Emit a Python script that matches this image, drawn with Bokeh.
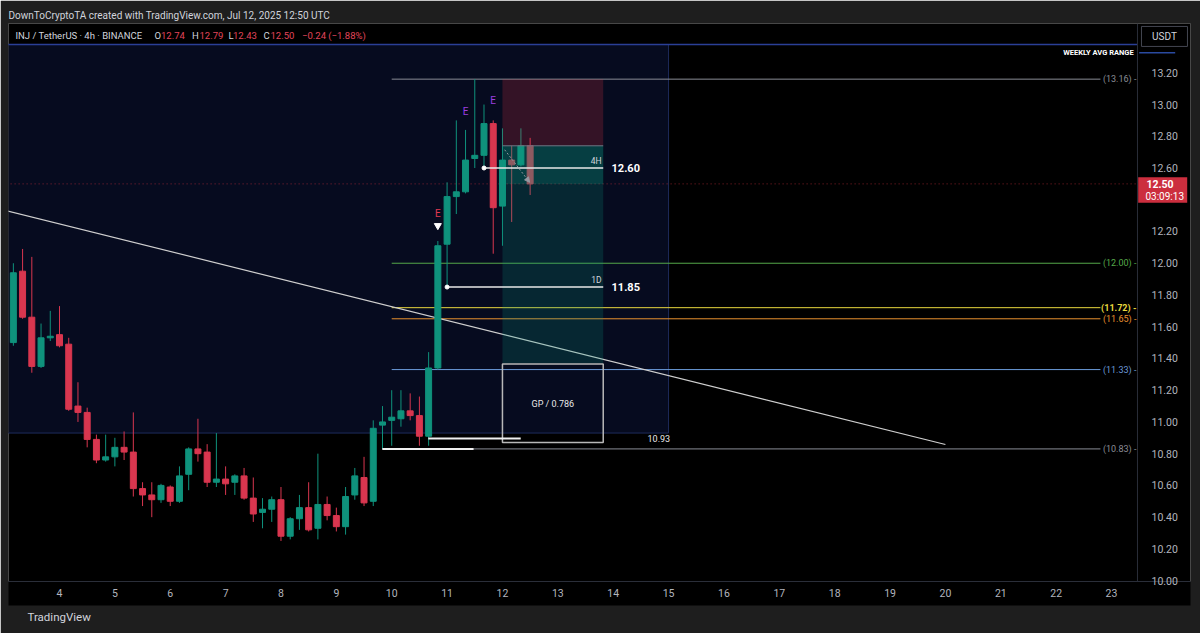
from bokeh.plotting import figure
from bokeh.models import (Range1d, FixedTicker, NumeralTickFormatter, Label, Span,
                          Arrow, NormalHead, ColumnDataSource, Title)
from bokeh.embed import file_html
from bokeh.resources import INLINE
from bokeh.core.properties import value

# ---------------- data ----------------
first_bar_day = 3 + 4 / 24          # Jul 3, 04:00 UTC, 4h bars
bars_per_day = 6
bar_open = [11.50, 11.95, 11.66, 11.35, 11.53, 11.55, 11.49, 11.10, 11.06, 10.89,
            10.76, 10.78, 10.84, 10.81, 10.58, 10.54, 10.51, 10.59, 10.50, 10.67,
            10.83, 10.81, 10.62, 10.64, 10.62, 10.66, 10.52, 10.43, 10.45, 10.51,
            10.28, 10.39, 10.46, 10.33, 10.48, 10.41, 10.34, 10.54, 10.65, 10.50,
            10.98, 11.01, 11.02, 11.07, 11.04, 10.91, 11.34, 12.12, 12.42, 12.45,
            12.66, 12.68, 12.88, 12.36, 12.65, 12.62, 12.74]
bar_high = [12.00, 12.09, 12.04, 11.62, 11.70, 11.73, 11.53, 11.25, 11.09, 10.92,
            10.92, 10.90, 10.94, 11.06, 10.62, 10.62, 10.61, 10.60, 10.72, 10.84,
            11.02, 10.86, 10.93, 10.72, 10.67, 10.71, 10.65, 10.52, 10.53, 10.59,
            10.40, 10.54, 10.62, 10.80, 10.53, 10.46, 10.59, 10.71, 10.78, 11.01,
            11.10, 11.20, 11.20, 11.18, 11.16, 11.44, 12.14, 12.51, 12.90, 12.84,
            13.16, 13.00, 12.90, 12.85, 12.74, 12.85, 12.79]
bar_low = [11.48, 11.65, 11.31, 11.34, 11.51, 11.47, 11.07, 11.00, 10.84, 10.74,
           10.75, 10.72, 10.76, 10.53, 10.47, 10.40, 10.49, 10.47, 10.49, 10.57,
           10.75, 10.59, 10.59, 10.54, 10.54, 10.51, 10.37, 10.33, 10.37, 10.25,
           10.26, 10.32, 10.31, 10.26, 10.38, 10.31, 10.29, 10.51, 10.47, 10.47,
           10.83, 10.85, 10.97, 11.01, 10.85, 10.85, 11.33, 11.85, 12.31, 12.44,
           12.60, 12.60, 12.06, 12.11, 12.26, 12.61, 12.43]
bar_close = [11.94, 11.66, 11.35, 11.53, 11.54, 11.48, 11.08, 11.06, 10.89, 10.76,
             10.78, 10.84, 10.81, 10.58, 10.54, 10.51, 10.60, 10.50, 10.66, 10.83,
             10.80, 10.62, 10.64, 10.61, 10.66, 10.52, 10.42, 10.45, 10.51, 10.28,
             10.39, 10.46, 10.32, 10.48, 10.41, 10.34, 10.53, 10.66, 10.49, 10.96,
             11.00, 11.03, 11.07, 11.04, 10.91, 11.34, 12.11, 12.42, 12.45, 12.65,
             12.68, 12.88, 12.35, 12.65, 12.62, 12.74, 12.50]

day_ticks = list(range(4, 24))
price_ticks = [10.0, 10.2, 10.4, 10.6, 10.8, 11.0, 11.2, 11.4, 11.6, 11.8,
               12.0, 12.2, 12.6, 12.8, 13.0, 13.2]

level_prices = [13.16, 12.00, 11.72, 11.65, 11.33, 10.83]
level_texts = ["(13.16) -", "(12.00) -", "(11.72) -", "(11.65) -", "(11.33) -", "(10.83) -"]
level_start_days = [10.0, 10.0, 10.0, 10.0, 10.0, 11.48]
level_end_day = 22.8

weekly_range_top = 13.378
weekly_range_bottom = 10.93
weekly_range_end_day = 15.0

trend_days = [3.0, 20.0]
trend_prices = [12.335, 10.858]

pos_left_day, pos_right_day = 12.0, 13.82
pos_stop, pos_entry, pos_target, last_price = 13.16, 12.74, 11.37, 12.50
gp_bottom, gp_top = 10.87, 11.365

swing_4h_day, swing_4h_price = 11.667, 12.60
swing_1d_day, swing_1d_price = 11.0, 11.85

white_seg_days = [[10.66, 12.33], [9.83, 11.48]]
white_seg_prices = [10.895, 10.83]

signal_days = [10.833, 11.333, 11.833]
signal_prices = [12.313, 12.956, 13.025]
signal_texts = ["E", "E", "E"]

header_text = "DownToCryptoTA created with TradingView.com, Jul 12, 2025 12:50 UTC"
countdown_text = "03:09:13"

# ---------------- styles ----------------
UP, DOWN = "#0f927c", "#d9364f"
BG, FRAME = "#000000", "#1e1e1e"
AXIS_TXT = "#b2b5be"
FONT = "Roboto"
level_colors = ["#8a8d96", "#55a84a", "#e8d83e", "#e8912f", "#6a9ad8", "#8a8d96"]
signal_colors = ["#e23a52", "#9c3fe0", "#9c3fe0"]

# price-scale column sits inside the frame (right of day 23.469)
axis_split_day = 23.469
x_end_day = 24.4265

p = figure(width=1200, height=633, output_backend="svg", toolbar_location=None,
           x_range=Range1d(3.0789, x_end_day), y_range=Range1d(9.9946, 13.5106),
           y_axis_location="right", min_border_left=8, min_border_right=10,
           min_border_top=23, min_border_bottom=52,
           background_fill_color=BG, border_fill_color=FRAME, outline_line_color=None)
p.xgrid.visible = False
p.ygrid.visible = False

p.title.text = header_text
p.title.text_font = FONT
p.title.text_font_size = "10px"
p.title.text_font_style = "normal"
p.title.text_color = "#d1d4dc"
p.title.align = "left"
p.title.standoff = 5

xa = p.xaxis[0]
xa.ticker = FixedTicker(ticks=day_ticks)
xa.major_tick_line_color = None
xa.minor_tick_line_color = None
xa.axis_line_color = "#2a2e39"
xa.major_label_text_color = AXIS_TXT
xa.major_label_text_font = FONT
xa.major_label_text_font_size = "10.5px"
xa.major_label_standoff = 1
xa.axis_label = " "
xa.axis_label_text_font_size = "3px"
xa.axis_label_standoff = 0
xa.background_fill_color = BG

ya = p.yaxis[0]
ya.ticker = FixedTicker(ticks=price_ticks)
ya.formatter = NumeralTickFormatter(format="0.00")
ya.major_tick_line_color = None
ya.minor_tick_line_color = None
ya.axis_line_color = None
ya.major_label_text_color = AXIS_TXT
ya.major_label_text_font = FONT
ya.major_label_text_font_size = "10.5px"
ya.major_label_standoff = -45

p.add_layout(Title(text="TradingView", text_font=FONT, text_font_size="11.5px",
                   text_font_style="normal", text_color="#d1d4dc", align="left",
                   offset=19, standoff=4), "below")

# price-scale separator
p.add_layout(Span(location=axis_split_day, dimension="height", line_color="#2a2e39",
                  line_width=1))

# weekly range box
p.quad(left=[2.9], right=[weekly_range_end_day], bottom=[weekly_range_bottom],
       top=[weekly_range_top], fill_color="#060b1f", line_color="#1d2a5c", line_width=1)
p.line([2.9, axis_split_day], [weekly_range_top] * 2, line_color="#2a3f96", line_width=1.5)
p.line([23.5, 24.15], [13.327, 13.327], line_color="#2a4aa0", line_width=1.5)

# key levels
for lp, ls, lc, lt in zip(level_prices, level_start_days, level_colors, level_texts):
    p.line([ls, level_end_day], [lp, lp], line_color=lc, line_width=1)
    p.add_layout(Label(x=23.45, y=lp, text=lt, text_align="right", text_baseline="middle",
                       text_color=lc, text_font=FONT, text_font_size="9px",
                       text_font_style="bold" if lt.startswith("(11.72") else "normal"))

# trend line
p.line(trend_days, trend_prices, line_color="#cfcfcf", line_width=1.2)

# current price line
p.line([2.9, axis_split_day], [last_price] * 2, line_color="#f23645",
       line_alpha=0.55, line_dash="1 3", line_width=1)

# candles
t = [first_bar_day + i / bars_per_day for i in range(len(bar_open))]
colors = [UP if c >= o else DOWN for o, c in zip(bar_open, bar_close)]
src = ColumnDataSource(dict(
    t=t, h=bar_high, l=bar_low,
    top=[max(o, c) for o, c in zip(bar_open, bar_close)],
    bottom=[min(o, c) for o, c in zip(bar_open, bar_close)],
    color=colors))
p.segment(x0="t", y0="h", x1="t", y1="l", line_color="color", line_width=1, source=src)
p.vbar(x="t", width=0.108, top="top", bottom="bottom", fill_color="color",
       line_color="color", line_width=1, source=src)

# short position tool
p.quad(left=[pos_left_day], right=[pos_right_day], bottom=[pos_entry], top=[pos_stop],
       fill_color="#f23645", fill_alpha=0.2, line_color=None)
p.quad(left=[pos_left_day], right=[pos_right_day], bottom=[pos_target], top=[pos_entry],
       fill_color="#089981", fill_alpha=0.2, line_color=None)
p.quad(left=[pos_left_day], right=[pos_right_day], bottom=[last_price], top=[pos_entry],
       fill_color="#089981", fill_alpha=0.2, line_color=None)
p.line([pos_left_day, pos_right_day], [pos_entry] * 2, line_color="#707784", line_width=1)
p.add_layout(Arrow(x_start=12.04, y_start=12.715, x_end=12.49, y_end=12.51,
                   line_color="#9598a1", line_dash="2 2", line_width=1,
                   end=NormalHead(size=5, fill_color="#9598a1", line_color="#9598a1")))

# golden pocket box
p.quad(left=[pos_left_day], right=[pos_right_day], bottom=[gp_bottom], top=[gp_top],
       fill_alpha=0, line_color="#b8b8b8", line_width=1.5)
p.add_layout(Label(x=(pos_left_day + pos_right_day) / 2, y=11.11, text="GP / 0.786",
                   text_align="center", text_baseline="middle", text_color="#e8e8e8",
                   text_font=FONT, text_font_size="9px"))
p.add_layout(Label(x=14.62, y=10.896, text="10.93", text_align="left", text_baseline="middle",
                   text_color="#e8e8e8", text_font=FONT, text_font_size="9px"))

# white swing-low segments
for sd, sp in zip(white_seg_days, white_seg_prices):
    p.line(sd, [sp, sp], line_color="#f0f0f0", line_width=2)

# 4H / 1D swing lines
for sday, sprice, tag, ty in [(swing_4h_day, swing_4h_price, "4H", 12.645),
                              (swing_1d_day, swing_1d_price, "1D", 11.897)]:
    p.line([sday, pos_right_day], [sprice, sprice], line_color="#e8e8e8", line_width=1.5)
    p.scatter([sday], [sprice], size=4, color="#ffffff")
    p.add_layout(Label(x=13.79, y=ty, text=tag, text_align="right", text_baseline="middle",
                       text_color="#d1d4dc", text_font=FONT, text_font_size="8.5px"))
    p.add_layout(Label(x=13.97, y=sprice, text=f"{sprice:.2f}", text_align="left",
                       text_baseline="middle", text_color="#ffffff", text_font=FONT,
                       text_font_size="11px", text_font_style="bold"))

# signal markers
p.text(x=signal_days, y=signal_prices, text=signal_texts, text_color=signal_colors,
       text_align="center", text_baseline="middle", text_font=value(FONT),
       text_font_size="10px")
p.scatter([signal_days[0]], [12.237], marker="inverted_triangle", size=7, color="#ffffff")

# labels
p.add_layout(Label(x=23.40, y=13.327, text="WEEKLY AVG RANGE", text_align="right",
                   text_baseline="middle", text_color="#ffffff", text_font=FONT,
                   text_font_size="7.5px", text_font_style="bold"))

legend_parts = [(3.205, "INJ / TetherUS · 4h · BINANCE", "#d1d4dc"),
                (5.716, "O", "#d1d4dc"), (5.833, "12.74", "#e0455a"),
                (6.393, "H", "#d1d4dc"), (6.528, "12.79", "#e0455a"),
                (7.052, "L", "#d1d4dc"), (7.133, "12.43", "#e0455a"),
                (7.684, "C", "#d1d4dc"), (7.811, "12.50", "#e0455a"),
                (8.380, "\u22120.24 (\u22121.88%)", "#e0455a")]
for lx, lt, lc in legend_parts:
    p.add_layout(Label(x=lx, y=13.435, text=lt, text_align="left", text_baseline="middle",
                       text_color=lc, text_font=FONT, text_font_size="9.5px"))

# price-scale badge for the last price
p.quad(left=[23.482], right=[24.367], bottom=[12.381], top=[12.542],
       fill_color="#cc2e3e", line_color=None)
p.add_layout(Label(x=23.631, y=last_price, text=f"{last_price:.2f}", text_align="left",
                   text_baseline="middle", text_color="#ffffff", text_font=FONT,
                   text_font_size="10.5px", text_font_style="bold"))
p.add_layout(Label(x=23.613, y=12.422, text=countdown_text, text_align="left",
                   text_baseline="middle", text_color="#ffffff", text_font=FONT,
                   text_font_size="10px"))

# currency button
p.quad(left=[23.541], right=[24.372], bottom=[13.366], top=[13.492],
       fill_color="#000000", line_color="#434651", line_width=1)
p.add_layout(Label(x=23.956, y=13.429, text="USDT", text_align="center",
                   text_baseline="middle", text_color="#d1d4dc", text_font=FONT,
                   text_font_size="10px"))

open("out.html", "w").write(file_html(p, INLINE))
